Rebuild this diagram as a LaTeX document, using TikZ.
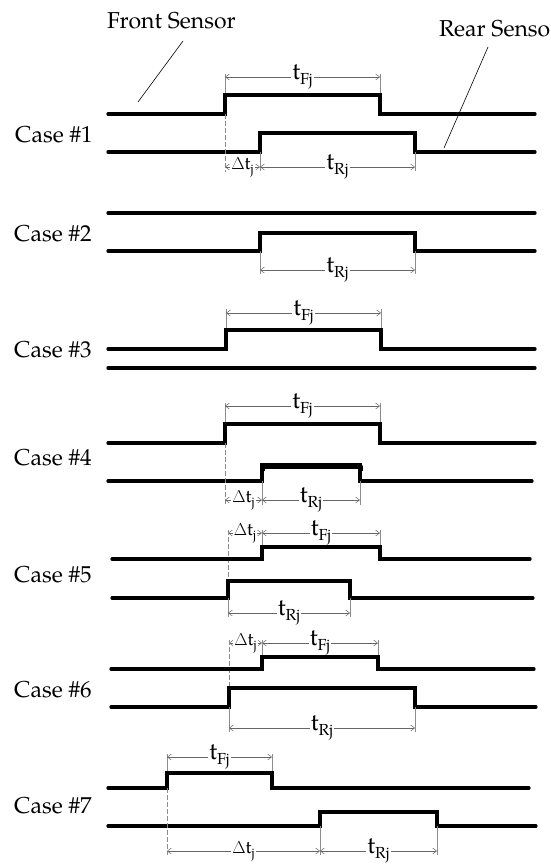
\documentclass[tikz,border=0pt]{standalone}
\usepackage[no-math]{fontspec}
\setmainfont{TeX Gyre Pagella}
\usetikzlibrary{arrows.meta}

% duration labels: t with a subscript, and Delta t_j
\newcommand\tlab[1]{{\fontsize{24}{24}\selectfont t}\raisebox{-5.5pt}{\fontsize{16}{16}\selectfont #1}}
\newcommand\dtlab{{\fontsize{18}{18}\selectfont$\Delta$t}\raisebox{-4.5pt}{\fontsize{13}{13}\selectfont j}}

% one sensor trace: low level, high level, rising edge, falling edge, start, end
\newcommand\pulsewave[6]{%
  \draw[wave] (#5,#1) -- (#3,#1) -- (#3,#2) -- (#4,#2) -- (#4,#1) -- (#6,#1);}
% a dimension arrow with its label
\newcommand\dimarrow[5]{%
  \draw[dimline] (#2,#4) -- (#3,#4) node[midway,lbl] (#1) {#5};}

\tikzset{
  wave/.style={line width=3.3pt, line cap=round, line join=miter, black},
  dimline/.style={draw=black!60, line width=0.5pt,
    {Straight Barb[length=4pt,width=6pt]}-{Straight Barb[length=4pt,width=6pt]}},
  ext/.style={draw=black!45, line width=0.4pt},
  guide/.style={ext, dash pattern=on 5pt off 2pt},
  lbl/.style={fill=white, inner sep=1pt, anchor=mid},
  casetxt/.style={font=\fontsize{23}{23}\selectfont, anchor=west, inner sep=0pt},
  headtxt/.style={font=\fontsize{23}{23}\selectfont, anchor=base west, inner sep=0pt},
  pointer/.style={draw=black, line width=0.6pt}
}

\begin{document}
\begin{tikzpicture}[x=1pt,y=-1pt]
\useasboundingbox (0,0) rectangle (551,867);
\clip (0,0) rectangle (551,867);

% headings and their pointers
\node[headtxt] (front) at (107,29) {Front Sensor};
\node[headtxt] (rear) at (439,37) {Rear Senso};
\coordinate (fp) at (138,102);
\coordinate (rp) at (444,148);
\draw[pointer] (183,41) -- (fp);
\draw[pointer] (488,47) -- (rp);

% ---------------- Case #1
\node[casetxt] (c1) at (15,135) {Case \#1};
\draw[ext] (225,74) -- (225,95) (380,74) -- (380,95);
\dimarrow{c1f}{225}{380}{77}{\tlab{Fj}}
\pulsewave{114}{95}{225}{380}{108}{535}
\pulsewave{152}{133}{260}{415}{108}{535}
\draw[guide] (225,114) -- (225,172);
\draw[ext] (260,152) -- (260,171) (415,152) -- (415,171);
\dimarrow{c1d}{225}{260}{167}{\dtlab}
\dimarrow{c1r}{260}{415}{167}{\tlab{Rj}}

% ---------------- Case #2
\node[casetxt] (c2) at (14,234) {Case \#2};
\draw[wave] (108,213) -- (535,213);
\pulsewave{251}{233}{260}{415}{108}{535}
\draw[ext] (260,251) -- (260,274) (415,251) -- (415,274);
\dimarrow{c2r}{260}{415}{270}{\tlab{Rj}}

% ---------------- Case #3
\node[casetxt] (c3) at (14,350) {Case \#3};
\draw[ext] (226,309) -- (226,330) (381,309) -- (381,330);
\dimarrow{c3f}{226}{381}{313}{\tlab{Fj}}
\pulsewave{349}{330}{226}{381}{108}{535}
\draw[wave] (108,368) -- (535,368);

% ---------------- Case #4
\node[casetxt] (c4) at (14,458) {Case \#4};
\draw[ext] (225,403) -- (225,424) (380,403) -- (380,424);
\dimarrow{c4f}{225}{380}{406}{\tlab{Fj}}
\pulsewave{443}{424}{225}{380}{108}{535}
\pulsewave{481}{465}{262}{360}{108}{532}
\draw[line width=5pt, line join=round] (262,471) -- (262,466.5) -- (360,466.5) -- (360,471);
\draw[guide] (225,443) -- (225,505);
\draw[ext] (262,481) -- (262,505) (360,481) -- (360,505);
\dimarrow{c4d}{225}{262}{500}{\dtlab}
\dimarrow{c4r}{262}{360}{500}{\tlab{Rj}}

% ---------------- Case #5
\node[casetxt] (c5) at (14,575) {Case \#5};
\dimarrow{c5d}{228}{262}{533}{\dtlab}
\dimarrow{c5f}{262}{380}{533}{\tlab{Fj}}
\draw[guide] (228,530) -- (228,581);
\draw[ext] (262,530) -- (262,547) (380,530) -- (380,547);
\pulsewave{559}{547}{262}{380}{112}{530}
\pulsewave{598}{581}{228}{350}{112}{533}
\draw[ext] (228,598) -- (228,617) (350,598) -- (350,617);
\dimarrow{c5r}{228}{350}{613}{\tlab{Rj}}

% ---------------- Case #6
\node[casetxt] (c6) at (14,690) {Case \#6};
\dimarrow{c6d}{229}{262}{643}{\dtlab}
\dimarrow{c6f}{262}{378}{643}{\tlab{Fj}}
\draw[guide] (229,640) -- (229,688);
\draw[ext] (262,640) -- (262,657) (378,640) -- (378,657);
\pulsewave{669}{657}{262}{378}{111}{534}
\pulsewave{707}{688}{229}{415}{111}{536}
\draw[ext] (229,707) -- (229,732) (415,707) -- (415,732);
\dimarrow{c6r}{229}{415}{728}{\tlab{Rj}}

% ---------------- Case #7
\node[casetxt] (c7) at (14,806) {Case \#7};
\draw[ext] (167,754) -- (167,773) (272,754) -- (272,773);
\dimarrow{c7f}{167}{272}{757}{\tlab{Fj}}
\pulsewave{788}{773}{167}{272}{108}{529}
\pulsewave{826}{812}{320}{437}{108}{536}
\draw[guide] (167,788) -- (167,855);
\draw[ext] (320,826) -- (320,855) (437,826) -- (437,855);
\dimarrow{c7d}{167}{320}{851}{\dtlab}
\dimarrow{c7r}{320}{437}{851}{\tlab{Rj}}
\end{tikzpicture}
\end{document}
